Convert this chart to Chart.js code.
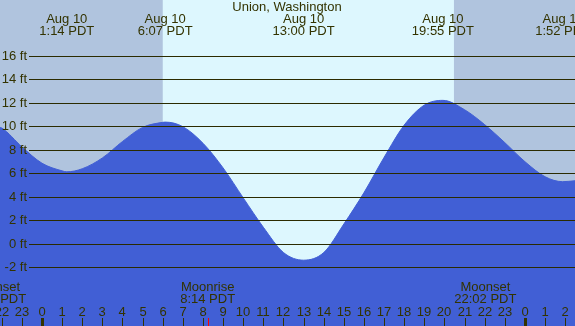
<!DOCTYPE html>
<html>
<head>
<meta charset="utf-8">
<script src="https://cdn.jsdelivr.net/npm/chart.js@4/dist/chart.umd.min.js"></script>
<style>
  body { margin: 0; background: #B0C4DE; }
  canvas { display: block; }
</style>
</head>
<body>
<canvas id="tideChart" width="575" height="326"></canvas>
<script>
// hours since midnight Aug 10 (PDT) and tide height in feet
const hours = [-2.09, -2, -1, 0, 1, 1.23, 2, 3, 4, 5, 6, 6.12, 7, 8, 9, 10, 11, 12, 13, 14, 15, 16, 17, 18, 19, 19.92, 21, 22, 23, 24, 25, 25.87, 26.49];
const heights = [9.9, 9.85, 8.25, 6.85, 6.2, 6.12, 6.38, 7.3, 8.7, 9.9, 10.33, 10.35, 9.96, 8.55, 6.45, 3.9, 1.4, -0.75, -1.4, -0.75, 1.68, 4.35, 7.35, 10.1, 11.8, 12.2, 11.4, 10.13, 8.6, 6.98, 5.7, 5.28, 5.36];

// high / low tide labels along the top
const extremeHours = [1.23, 6.12, 13.0, 19.92, 25.87];
const extremeTimes = ['1:14 PDT', '6:07 PDT', '13:00 PDT', '19:55 PDT', '1:52 PDT'];
const extremeDays = ['Aug 10', 'Aug 10', 'Aug 10', 'Aug 10', 'Aug 11'];

// y axis labels
const feetTicks = [16, 14, 12, 10, 8, 6, 4, 2, 0, -2];

// daylight window
const sunrise = 6.0;
const sunset = 20.47;

// moon events
const moonHours = [-2.33, 8.23, 22.03];
const moonNames = ['Moonset', 'Moonrise', 'Moonset'];
const moonTimes = ['21:40 PDT', '8:14 PDT', '22:02 PDT'];

// hour ticks along the bottom
const hourTicks = [-2, -1, 0, 1, 2, 3, 4, 5, 6, 7, 8, 9, 10, 11, 12, 13, 14, 15, 16, 17, 18, 19, 20, 21, 22, 23, 24, 25, 26];

const textColor = '#333300';
const font = '13px "Liberation Sans", Arial, sans-serif';

const tidePlugin = {
    id: 'tideDecor',
    beforeDatasetsDraw(chart) {
        const { ctx, chartArea, scales: { x } } = chart;
        ctx.save();
        ctx.fillStyle = '#B0C4DE';
        ctx.fillRect(chartArea.left, chartArea.top, chartArea.width, chartArea.height);
        const x1 = x.getPixelForValue(sunrise);
        const x2 = x.getPixelForValue(sunset);
        ctx.fillStyle = '#DDF7FE';
        ctx.fillRect(x1, chartArea.top, x2 - x1, chartArea.height);
        ctx.restore();
    },
    afterDatasetsDraw(chart) {
        const { ctx, chartArea, scales: { x, y } } = chart;
        ctx.save();
        ctx.font = font;
        ctx.fillStyle = textColor;

        // grid lines + labels
        ctx.strokeStyle = '#2b2b00';
        ctx.lineWidth = 1;
        feetTicks.forEach(v => {
            const py = Math.round(y.getPixelForValue(v)) + 0.5;
            ctx.beginPath();
            ctx.moveTo(29, py);
            ctx.lineTo(chartArea.right, py);
            ctx.stroke();
            ctx.textAlign = 'right';
            ctx.textBaseline = 'middle';
            ctx.fillText(v + ' ft', 27, py);
        });

        // title and tide times
        ctx.textAlign = 'center';
        ctx.textBaseline = 'alphabetic';
        ctx.fillText('Union, Washington', 287, 11);
        extremeHours.forEach((h, i) => {
            const px = x.getPixelForValue(h);
            ctx.fillText(extremeDays[i], px, 23);
            ctx.fillText(extremeTimes[i], px, 35);
        });

        // moon events
        moonHours.forEach((h, i) => {
            const px = x.getPixelForValue(h);
            ctx.fillText(moonNames[i], px, 291);
            ctx.fillText(moonTimes[i], px, 303);
            ctx.fillStyle = '#ff0000';
            ctx.fillRect(Math.round(px), 318, 1, 8);
            ctx.fillStyle = textColor;
        });

        // hour ticks
        hourTicks.forEach(h => {
            const px = Math.round(x.getPixelForValue(h));
            const label = ((h % 24) + 24) % 24;
            ctx.fillText(String(label), px, 316);
            if (label === 0) {
                ctx.fillRect(px - 1, 318, 3, 8);
            } else {
                ctx.fillRect(px, 318, 1, 8);
            }
        });
        ctx.restore();
    }
};

const ctx = document.getElementById('tideChart').getContext('2d');
new Chart(ctx, {
    type: 'line',
    data: {
        datasets: [{
            data: hours.map((h, i) => ({ x: h, y: heights[i] })),
            borderColor: '#415FD5',
            backgroundColor: '#415FD5',
            borderWidth: 1,
            pointRadius: 0,
            fill: 'start',
            cubicInterpolationMode: 'monotone'
        }]
    },
    options: {
        responsive: false,
        animation: false,
        layout: { padding: 0 },
        plugins: { legend: { display: false }, tooltip: { enabled: false } },
        scales: {
            x: { type: 'linear', min: -2.087, max: 26.485, display: false },
            y: { min: -7.0, max: 20.74, display: false }
        }
    },
    plugins: [tidePlugin]
});
</script>
</body>
</html>
